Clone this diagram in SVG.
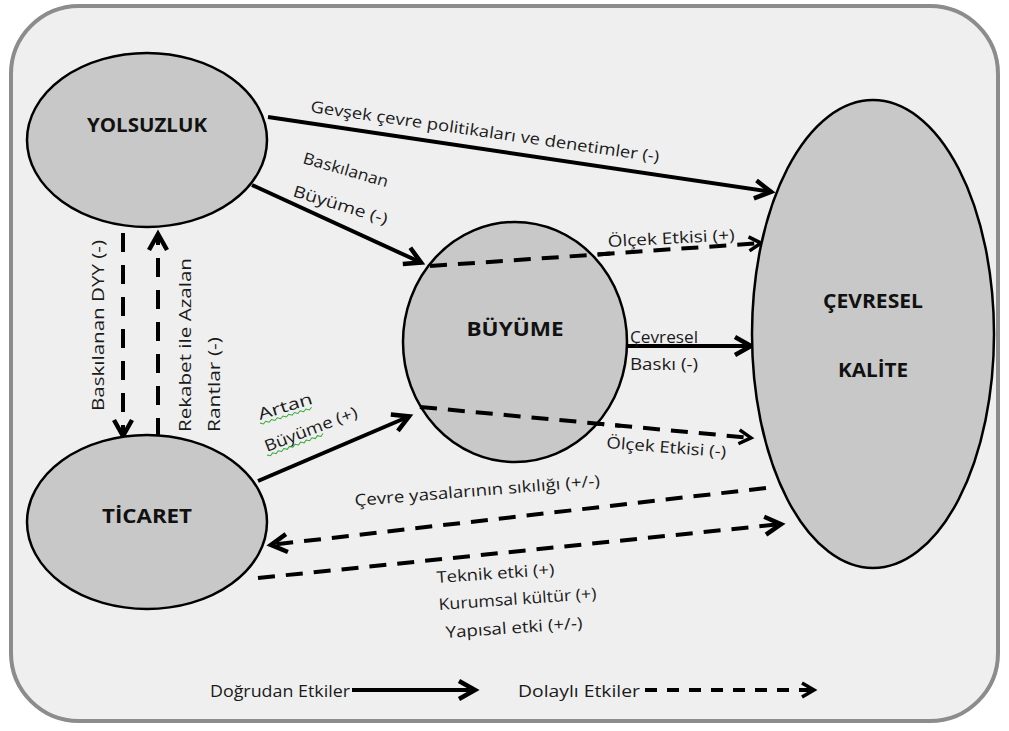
<svg xmlns="http://www.w3.org/2000/svg" width="1009" height="731" viewBox="0 0 1009 731">
<defs>
<style>
.node{fill:#c8c8c8;stroke:#000;stroke-width:2.5}
.title{font-family:"Open Sans","Liberation Sans",sans-serif;font-weight:bold;font-size:19px;fill:#111;text-anchor:middle}
.lbl{font-family:"Open Sans","Liberation Sans",sans-serif;font-size:16px;fill:#1a1a1a}
.solid{stroke:#000;stroke-width:4;fill:none}
.dash{stroke:#000;stroke-width:4;fill:none;stroke-dasharray:17 11}
.vdash{stroke:#000;stroke-width:4;fill:none;stroke-dasharray:19 13}
.squig{stroke:#3a3;stroke-width:1;fill:none}
</style>
<marker id="ah" markerUnits="userSpaceOnUse" markerWidth="26" markerHeight="26" viewBox="0 0 26 26" refX="22" refY="13" orient="auto">
<path d="M5,4 L21,13 L5,22" fill="none" stroke="#000" stroke-width="4.5" stroke-linejoin="miter"/>
</marker>
<marker id="ahs" markerUnits="userSpaceOnUse" markerWidth="22" markerHeight="22" viewBox="0 0 22 22" refX="18" refY="11" orient="auto">
<path d="M5,4 L17,11 L5,18" fill="none" stroke="#000" stroke-width="3.5" stroke-linejoin="miter"/>
</marker>
</defs>
<rect id="frame" x="11" y="6" width="987" height="715" rx="68" ry="68" fill="#efefef" stroke="#8c8c8c" stroke-width="4"/>

<g id="connectors">
<line class="solid" x1="268" y1="117" x2="772" y2="192" marker-end="url(#ah)"/>
<line class="solid" x1="252" y1="185" x2="422" y2="263" marker-end="url(#ah)"/>
<line class="dash" x1="430" y1="266" x2="762" y2="243" marker-end="url(#ahs)"/>
<line class="solid" x1="628" y1="346" x2="752" y2="346" marker-end="url(#ah)"/>
<line class="dash" x1="420" y1="407" x2="752" y2="438" marker-end="url(#ahs)"/>
<line class="solid" x1="258" y1="481" x2="410" y2="416" marker-end="url(#ah)"/>
<line class="dash" x1="766" y1="488" x2="270" y2="545" marker-end="url(#ah)"/>
<line class="dash" x1="258" y1="578" x2="782" y2="524" marker-end="url(#ah)"/>
<line class="vdash" x1="123" y1="233" x2="123" y2="437" marker-end="url(#ah)"/>
<line class="vdash" x1="158" y1="437" x2="158" y2="233" marker-end="url(#ah)"/>
</g>

<g id="yolsuzluk">
<ellipse class="node" cx="147" cy="140" rx="120" ry="87"/>
<text class="title" x="147" y="132" textLength="120" lengthAdjust="spacingAndGlyphs">YOLSUZLUK</text>
</g>
<g id="ticaret">
<ellipse class="node" cx="147" cy="522" rx="120" ry="87"/>
<text class="title" x="147" y="523" textLength="90" lengthAdjust="spacingAndGlyphs">TİCARET</text>
</g>
<g id="buyume">
<ellipse class="node" cx="515" cy="342" rx="112" ry="120"/>
<text class="title" x="515" y="336" textLength="97" lengthAdjust="spacingAndGlyphs">BÜYÜME</text>
</g>
<g id="cevresel">
<ellipse class="node" cx="873" cy="334" rx="121" ry="234"/>
<text class="title" x="873" y="308" textLength="100" lengthAdjust="spacingAndGlyphs">ÇEVRESEL</text>
<text class="title" x="873" y="377" textLength="70" lengthAdjust="spacingAndGlyphs">KALİTE</text>
</g>

<g id="dashed-over">
<line class="dash" x1="430" y1="266" x2="610" y2="253.6"/>
<line class="dash" x1="420" y1="407" x2="620" y2="425.7"/>
</g>

<g id="labels">
<text class="lbl" transform="translate(310,112) rotate(8.2)" textLength="352" lengthAdjust="spacingAndGlyphs">Gevşek çevre politikaları ve denetimler (-)</text>
<text class="lbl" transform="translate(302,163) rotate(16)" textLength="88" lengthAdjust="spacingAndGlyphs">Baskılanan</text>
<text class="lbl" transform="translate(292,196) rotate(17)" textLength="98" lengthAdjust="spacingAndGlyphs">Büyüme (-)</text>
<text class="lbl" transform="translate(608,247) rotate(-3)" textLength="127" lengthAdjust="spacingAndGlyphs">Ölçek Etkisi (+)</text>
<text class="lbl" x="630" y="343" textLength="68" lengthAdjust="spacingAndGlyphs">Çevresel</text>
<text class="lbl" x="630" y="370" textLength="68" lengthAdjust="spacingAndGlyphs">Baskı (-)</text>
<text class="lbl" transform="translate(606,448) rotate(4.5)" textLength="120" lengthAdjust="spacingAndGlyphs">Ölçek Etkisi (-)</text>
<text class="lbl" transform="translate(260,420) rotate(-17)" textLength="56" lengthAdjust="spacingAndGlyphs">Artan</text>
<text class="lbl" transform="translate(267,452) rotate(-21)" textLength="98" lengthAdjust="spacingAndGlyphs">Büyüme (+)</text>
<path class="squig" transform="translate(260,423) rotate(-17)" d="M0,0 l3,2 l3,-2 l3,2 l3,-2 l3,2 l3,-2 l3,2 l3,-2 l3,2 l3,-2 l3,2 l3,-2 l3,2 l3,-2 l3,2 l3,-2 l3,2 l3,-2"/>
<path class="squig" transform="translate(267,455) rotate(-21)" d="M0,0 l3,2 l3,-2 l3,2 l3,-2 l3,2 l3,-2 l3,2 l3,-2 l3,2 l3,-2 l3,2 l3,-2 l3,2 l3,-2 l3,2 l3,-2 l3,2 l3,-2 l3,2 l3,-2"/>
<text class="lbl" transform="translate(355,506) rotate(-4.6)" textLength="246" lengthAdjust="spacingAndGlyphs">Çevre  yasalarının sıkılığı (+/-)</text>
<text class="lbl" transform="translate(437,583) rotate(-4)" textLength="118" lengthAdjust="spacingAndGlyphs">Teknik etki (+)</text>
<text class="lbl" transform="translate(439,610) rotate(-4)" textLength="158" lengthAdjust="spacingAndGlyphs">Kurumsal kültür (+)</text>
<text class="lbl" transform="translate(446,638) rotate(-4)" textLength="137" lengthAdjust="spacingAndGlyphs">Yapısal etki (+/-)</text>
<text class="lbl" transform="translate(104,411) rotate(-90)" textLength="171" lengthAdjust="spacingAndGlyphs">Baskılanan DYY (-)</text>
<text class="lbl" transform="translate(191,432) rotate(-90)" textLength="174" lengthAdjust="spacingAndGlyphs">Rekabet ile Azalan</text>
<text class="lbl" transform="translate(220,432) rotate(-90)" textLength="95" lengthAdjust="spacingAndGlyphs">Rantlar (-)</text>
</g>

<g id="legend">
<text class="lbl" x="210" y="697" textLength="140" lengthAdjust="spacingAndGlyphs">Doğrudan Etkiler</text>
<line class="solid" x1="352" y1="690" x2="476" y2="690" marker-end="url(#ah)"/>
<text class="lbl" x="518" y="697" textLength="122" lengthAdjust="spacingAndGlyphs">Dolaylı Etkiler</text>
<line stroke="#000" stroke-width="4" stroke-dasharray="12 10" x1="645" y1="690" x2="815" y2="690" marker-end="url(#ahs)"/>
</g>
</svg>
